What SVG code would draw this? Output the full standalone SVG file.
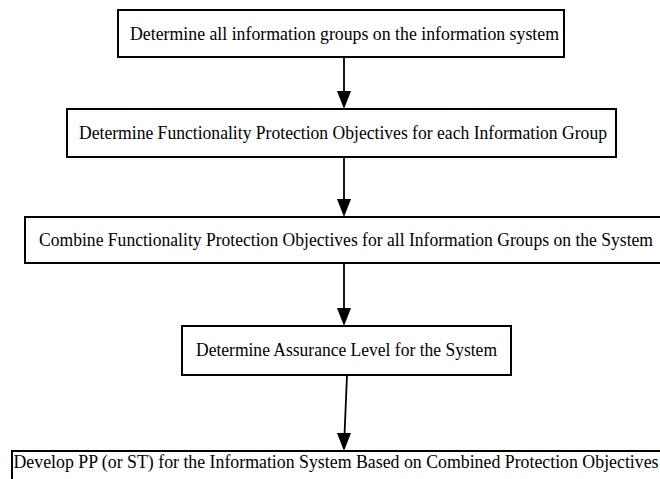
<svg xmlns="http://www.w3.org/2000/svg" width="660" height="479" viewBox="0 0 660 479">
<style>
.box{fill:#fff;stroke:#000;stroke-width:2}
.lbl{font-family:"Liberation Serif","Times New Roman",serif;font-size:19px;fill:#000;text-anchor:middle}
.edge{stroke:#000;stroke-width:1.8;fill:none}
.head{fill:#000}
</style>
<rect width="660" height="479" fill="#fff"/>
<g id="connectors">
<line class="edge" x1="344" y1="57" x2="344" y2="93"/>
<path class="head" d="M337,91 L351,91 L344,109 Z"/>
<line class="edge" x1="344" y1="157" x2="344" y2="201"/>
<path class="head" d="M337,199 L351,199 L344,217 Z"/>
<line class="edge" x1="344" y1="263" x2="344" y2="310"/>
<path class="head" d="M337,308 L351,308 L344,326 Z"/>
<line class="edge" x1="347" y1="375" x2="344.5" y2="435"/>
<path class="head" d="M337,433 L351,433 L344,451 Z"/>
</g>
<g id="n1">
<rect class="box" x="118" y="10" width="446" height="47"/>
<text class="lbl" x="344.5" y="40" textLength="429" lengthAdjust="spacingAndGlyphs">Determine all information groups on the information system</text>
</g>
<g id="n2">
<rect class="box" x="67" y="109" width="549" height="48"/>
<text class="lbl" x="343" y="139" textLength="528" lengthAdjust="spacingAndGlyphs">Determine Functionality Protection Objectives for each Information Group</text>
</g>
<g id="n3">
<rect class="box" x="25" y="217" width="645" height="46"/>
<text class="lbl" x="346" y="246" textLength="614" lengthAdjust="spacingAndGlyphs">Combine Functionality Protection Objectives for all Information Groups on the System</text>
</g>
<g id="n4">
<rect class="box" x="182" y="326" width="329" height="49"/>
<text class="lbl" x="346.5" y="356" textLength="301" lengthAdjust="spacingAndGlyphs">Determine Assurance Level for the System</text>
</g>
<g id="n5">
<rect class="box" x="12" y="451" width="660" height="47"/>
<text class="lbl" x="336" y="468" textLength="645" lengthAdjust="spacingAndGlyphs">Develop PP (or ST) for the Information System Based on Combined Protection Objectives</text>
</g>
</svg>
